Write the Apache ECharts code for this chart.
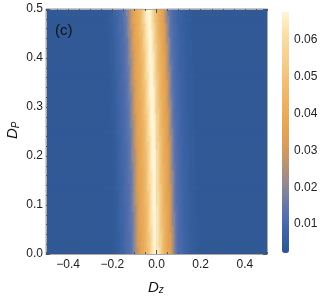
<!DOCTYPE html>
<html><head><meta charset="utf-8">
<script src="https://cdn.jsdelivr.net/npm/echarts@6/dist/echarts.min.js"></script>
<style>html,body{margin:0;padding:0;background:#fff}#c{width:322px;height:300px}</style>
</head><body><div id="c"></div>
<script>
// ---- data ----
const dzTicks = [-0.4, -0.2, 0, 0.2, 0.4];
const dpTicks = [0, 0.1, 0.2, 0.3, 0.4, 0.5];
const colorTicks = [0.01, 0.02, 0.03, 0.04, 0.05, 0.06];
const dzRange = [-0.5, 0.5];
const dpRange = [0, 0.5];
const nDzCells = 221;
const nDpCells = 35;
// centre of the bright band (Dz) for each DP row, bottom to top
const bandCenter = [-0.003,-0.004,-0.004,-0.005,-0.006,-0.006,-0.007,-0.008,-0.008,-0.009,
  -0.010,-0.010,-0.011,-0.012,-0.012,-0.013,-0.014,-0.015,-0.016,-0.017,
  -0.018,-0.019,-0.020,-0.021,-0.022,-0.023,-0.024,-0.025,-0.026,-0.027,
  -0.028,-0.030,-0.031,-0.033,-0.034];
// band profile, value at offsets -0.200 .. +0.200 (step 0.005) from the band centre
const profileStep = 0.005;
const profileValues = [
0.0041,0.0042,0.0043,0.0045,0.0048,0.0052,0.0057,0.0063,0.0069,0.0075,
0.0081,0.0087,0.0093,0.0099,0.0105,0.0112,0.0120,0.0130,0.0142,0.0157,
0.0176,0.0200,0.0228,0.0258,0.0288,0.0315,0.0338,0.0358,0.0376,0.0394,
0.0412,0.0432,0.0455,0.0482,0.0515,0.0552,0.0590,0.0625,0.0652,0.0670,
0.0677,
0.0668,0.0645,0.0612,0.0575,0.0538,0.0502,0.0470,0.0442,0.0418,0.0396,
0.0376,0.0356,0.0332,0.0302,0.0266,0.0228,0.0194,0.0165,0.0143,0.0127,
0.0116,0.0107,0.0100,0.0094,0.0088,0.0083,0.0078,0.0074,0.0070,0.0066,
0.0062,0.0058,0.0055,0.0052,0.0049,0.0047,0.0045,0.0043,0.0042,0.0041];
const backgroundValue = 0.0040;
const colorRange = [0.0021, 0.0677];
const colorStops = ['#2a5690','#3e64a6','#5d74ad','#8c8894','#b89272','#db9e58','#e8a855','#edb463','#f2c27a','#f6d190','#fadfa6','#fff6d8'];

// ---- build grid of cells ----
const dzCells = [], dpCells = [];
for (let i = 0; i < nDzCells; i++) dzCells.push(dzRange[0] + (dzRange[1]-dzRange[0])*(i+0.5)/nDzCells);
for (let j = 0; j < nDpCells; j++) dpCells.push(dpRange[0] + (dpRange[1]-dpRange[0])*(j+0.5)/nDpCells);
const half = (profileValues.length - 1) / 2;
const cells = [];
dpCells.forEach((dp, j) => {
  dzCells.forEach((dz, i) => {
    const k = Math.round((dz - bandCenter[j]) / profileStep) + half;
    const v = (k >= 0 && k < profileValues.length) ? profileValues[k] : backgroundValue;
    cells.push([i, j, v]);
  });
});

const FONT = 'Liberation Sans';
const fmtDz = v => (v < 0 ? '\u2212' : '') + Math.abs(v).toFixed(1);
const tickCol = '#555';
const frameCol = '#aaa';

const chart = echarts.init(document.getElementById('c'), null, {renderer: 'canvas'});
chart.setOption({
  animation: false,
  grid: [
    {left: 46, top: 9, width: 221, height: 245},
    {left: 282, top: 3.2, width: 7, height: 257.6}
  ],
  xAxis: [
    {type: 'category', gridIndex: 0, data: dzCells, show: false},
    {type: 'value', gridIndex: 0, position: 'bottom', min: dzRange[0], max: dzRange[1], z: 10,
      axisLine: {show: true, onZero: false, lineStyle: {color: frameCol, width: 1}},
      axisTick: {show: true, inside: true, length: 4, customValues: dzTicks, lineStyle: {color: tickCol}},
      axisLabel: {customValues: dzTicks, formatter: fmtDz, margin: 5, color: '#222', fontSize: 12, fontFamily: FONT},
      splitLine: {show: false}},
    {type: 'value', gridIndex: 0, position: 'bottom', min: dzRange[0], max: dzRange[1], interval: 0.05, z: 10,
      axisLine: {show: false, onZero: false}, axisLabel: {show: false}, splitLine: {show: false},
      axisTick: {show: true, inside: true, length: 2, lineStyle: {color: tickCol}}},
    {type: 'value', gridIndex: 0, position: 'top', min: dzRange[0], max: dzRange[1], z: 10,
      axisLine: {show: true, onZero: false, lineStyle: {color: frameCol, width: 1}},
      axisTick: {show: true, inside: true, length: 4, customValues: dzTicks, lineStyle: {color: tickCol}},
      axisLabel: {show: false}, splitLine: {show: false}},
    {type: 'value', gridIndex: 0, position: 'top', min: dzRange[0], max: dzRange[1], interval: 0.05, z: 10,
      axisLine: {show: false, onZero: false}, axisLabel: {show: false}, splitLine: {show: false},
      axisTick: {show: true, inside: true, length: 2, lineStyle: {color: tickCol}}},
    {type: 'value', gridIndex: 1, show: false, min: 0, max: 1}
  ],
  yAxis: [
    {type: 'category', gridIndex: 0, data: dpCells, show: false},
    {type: 'value', gridIndex: 0, position: 'left', min: dpRange[0], max: dpRange[1], interval: 0.1, z: 10,
      axisLine: {show: true, onZero: false, lineStyle: {color: frameCol, width: 1}},
      axisTick: {show: true, inside: true, length: 4, lineStyle: {color: tickCol}},
      minorTick: {show: true, splitNumber: 5, length: 2, lineStyle: {color: tickCol}},
      axisLabel: {formatter: v => v.toFixed(1), margin: 3, color: '#222', fontSize: 12, fontFamily: FONT},
      splitLine: {show: false}, minorSplitLine: {show: false}},
    {type: 'value', gridIndex: 0, position: 'right', min: dpRange[0], max: dpRange[1], interval: 0.1, z: 10,
      axisLine: {show: true, onZero: false, lineStyle: {color: frameCol, width: 1}},
      axisTick: {show: true, inside: true, length: 4, lineStyle: {color: tickCol}},
      minorTick: {show: true, splitNumber: 5, length: 2, lineStyle: {color: tickCol}},
      axisLabel: {show: false}, splitLine: {show: false}},
    {type: 'value', gridIndex: 1, position: 'right', min: 0, max: 0.07, interval: 0.01,
      axisLine: {show: false, onZero: false}, axisTick: {show: false}, splitLine: {show: false},
      axisLabel: {margin: 5, color: '#222', fontSize: 12, fontFamily: FONT,
        formatter: v => colorTicks.some(t => Math.abs(t - v) < 1e-6) ? v.toFixed(2) : ''}}
  ],
  visualMap: {
    type: 'continuous', seriesIndex: 0, dimension: 2,
    min: colorRange[0], max: colorRange[1],
    left: 282, top: 12, itemWidth: 7, itemHeight: 241, padding: 0,
    calculable: false, text: ['', ''], showLabel: false,
    inRange: {color: colorStops}
  },
  series: [
    {type: 'heatmap', xAxisIndex: 0, yAxisIndex: 0, data: cells, silent: true,
      itemStyle: {borderWidth: 0}, emphasis: {disabled: true}, progressive: 0},
    {type: 'line', xAxisIndex: 1, yAxisIndex: 1, data: [[0, dpRange[0]], [0, dpRange[1]]], symbol: 'none', silent: true, z: 3,
      lineStyle: {color: 'rgba(210,200,180,0.35)', width: 1}}
  ],
  graphic: [
    {type: 'text', z: 100, left: 55, top: 23, style: {text: '(c)', font: '15px "Liberation Sans"', fill: '#111'}},
    {type: 'text', z: 100, left: 148, top: 280, style: {
      text: '{a|D}{b|z}', fill: '#111',
      rich: {a: {font: 'italic 15px "Liberation Sans"', fill: '#111'},
             b: {font: 'italic 10px "Liberation Sans"', fill: '#111', verticalAlign: 'bottom', padding: [6, 0, 0, 0]}}}},
    {type: 'text', z: 100, x: 5, y: 139, rotation: Math.PI/2, style: {
      text: '{a|D}{b|P}', fill: '#111',
      rich: {a: {font: 'italic 15px "Liberation Sans"', fill: '#111'},
             b: {font: 'italic 10px "Liberation Sans"', fill: '#111', verticalAlign: 'bottom', padding: [6, 0, 0, 0]}}}}
  ]
});
</script>
</body></html>
